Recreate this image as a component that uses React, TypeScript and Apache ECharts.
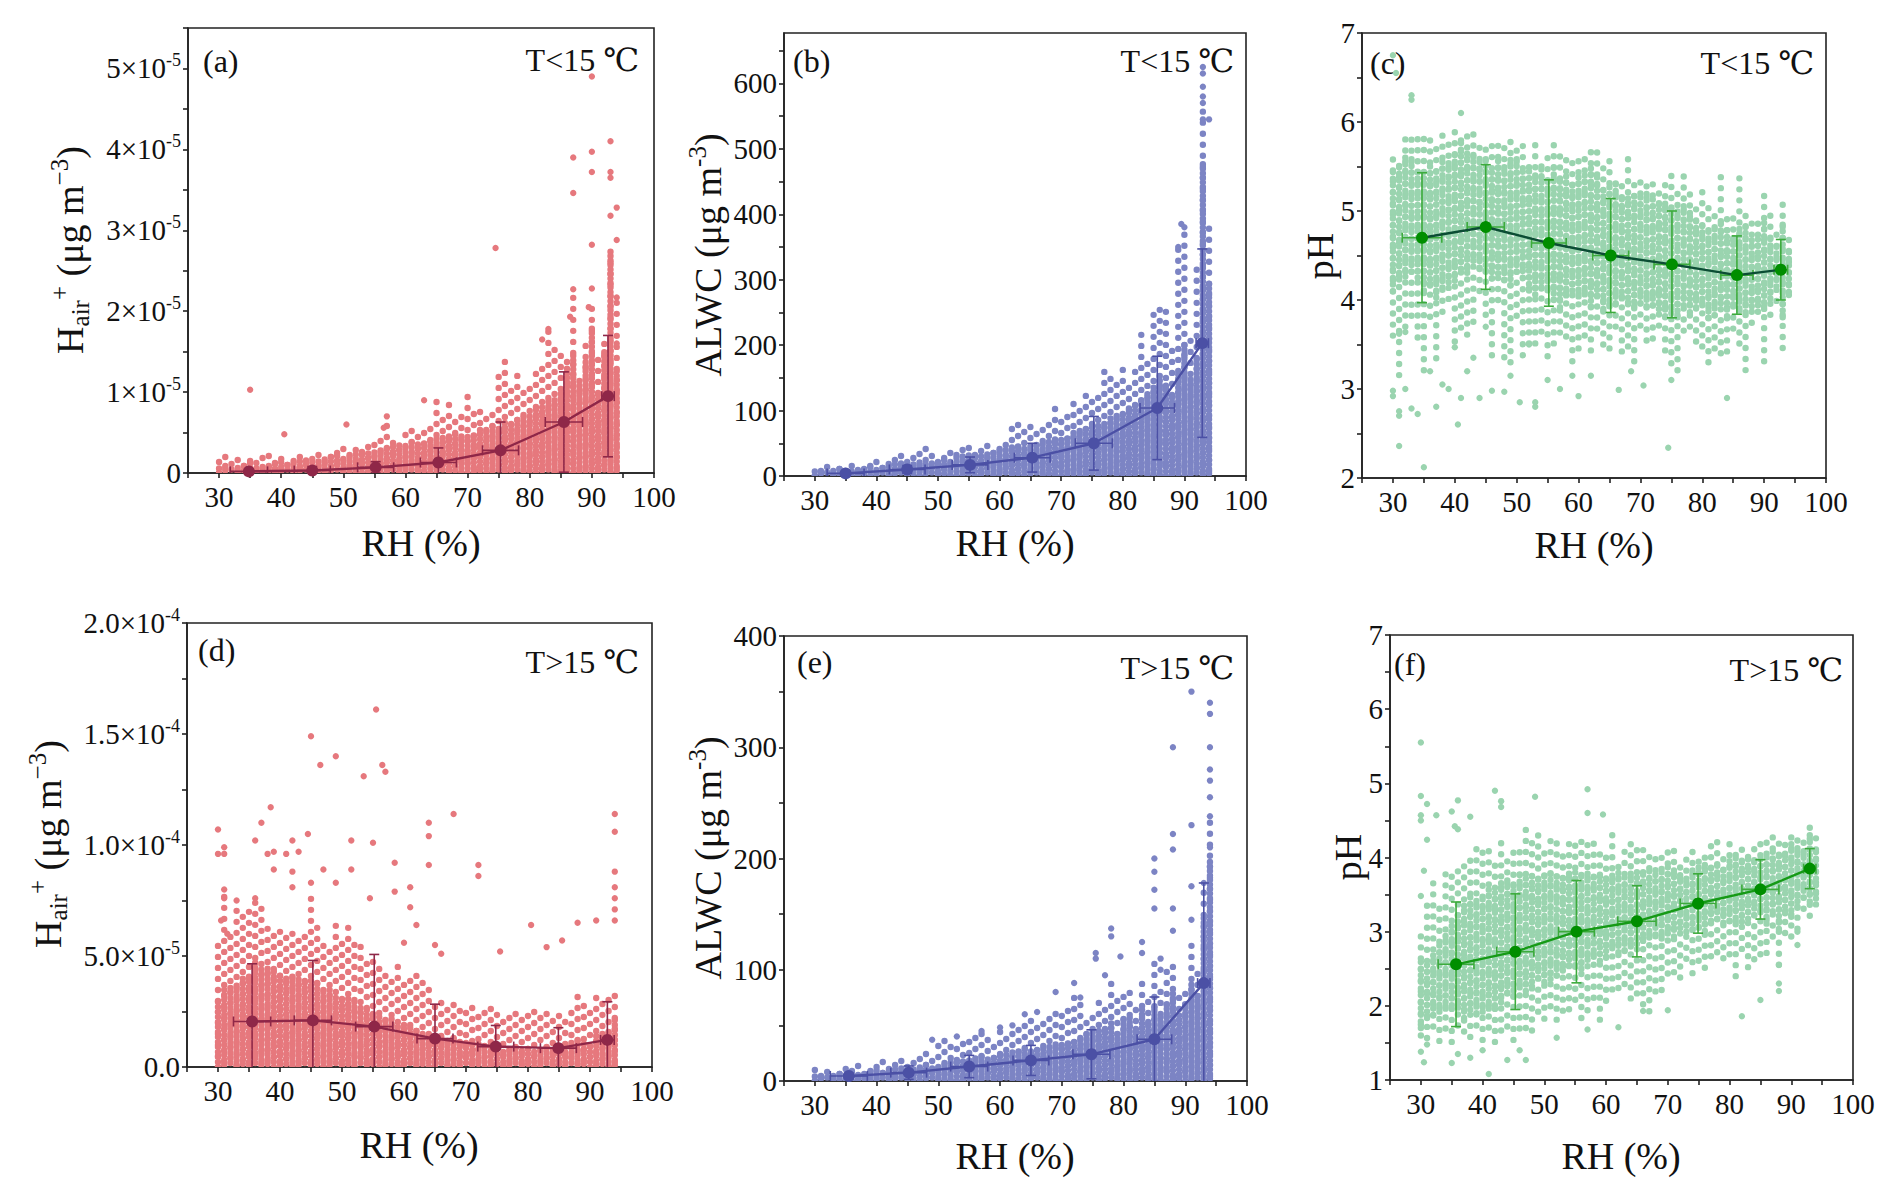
import React, { useEffect, useRef } from "react";
import * as echarts from "echarts";

const FONT = "'Liberation Serif','Times New Roman','DejaVu Serif',serif";

// RH columns (integer RH values at which the observations stack up)
const rhColumns = [30, 31, 32, 33, 34, 35, 36, 37, 38, 39, 40, 41, 42, 43, 44, 45, 46, 47, 48, 49, 50, 51, 52, 53, 54, 55, 56, 57, 58, 59, 60, 61, 62, 63, 64, 65, 66, 67, 68, 69, 70, 71, 72, 73, 74, 75, 76, 77, 78, 79, 80, 81, 82, 83, 84, 85, 86, 87, 88, 89, 90, 91, 92, 93, 94];

const xTickLabels = [30, 40, 50, 60, 70, 80, 90, 100];

// ---------- (a) H+air, T<15 (units of 1e-5 ug m-3) ----------
const aCoreHi = [0.08, 0.1, 0.08, 0.1, 0.1, 0.12, 0.1, 0.12, 0.14, 0.12, 0.15, 0.14, 0.16, 0.15, 0.18, 0.16, 0.18, 0.2, 0.2, 0.22, 0.22, 0.24, 0.25, 0.25, 0.28, 0.3, 0.3, 0.32, 0.34, 0.35, 0.36, 0.38, 0.4, 0.42, 0.44, 0.45, 0.46, 0.48, 0.48, 0.5, 0.5, 0.52, 0.55, 0.55, 0.58, 0.6, 0.62, 0.64, 0.66, 0.7, 0.75, 0.8, 0.85, 0.9, 0.95, 1.0, 1.3, 1.5, 1.1, 1.4, 1.8, 1.0, 1.5, 2.7, 1.3];
const aHaloHi = [0.2, 0.22, 0.2, 0.18, 0.2, 0.2, 0.15, 0.2, 0.22, 0.2, 0.2, 0.18, 0.2, 0.28, 0.22, 0.25, 0.24, 0.2, 0.3, 0.35, 0.3, 0.35, 0.32, 0.35, 0.4, 0.4, 0.45, 0.6, 0.45, 0.42, 0.5, 0.55, 0.5, 0.55, 0.6, 0.95, 0.7, 0.95, 0.7, 0.75, 0.98, 0.75, 0.85, 0.75, 0.8, 1.25, 1.48, 1.1, 1.2, 1.0, 1.1, 1.3, 1.4, 1.78, 1.55, 1.55, 1.5, 2.3, 1.2, 1.6, 2.1, 1.5, 1.7, 2.75, 2.2];
const aOutliers = [[35, 1.03], [40.5, 0.48], [50.5, 0.6], [57, 0.7], [56.5, 0.56], [63, 0.9], [74.5, 2.78], [87, 3.9], [87, 3.46], [87, 2.27], [86.5, 1.93], [90, 4.9], [90, 3.97], [90, 3.72], [90, 2.82], [90, 2.28], [89.5, 2.05], [93, 4.1], [93, 3.72], [93, 3.65], [93, 3.18], [94, 3.28], [94, 2.88], [94, 2.17], [83, 1.78], [82, 1.65], [94, 1.6]];
const aMeanRH = [34.8, 45.0, 55.2, 65.3, 75.3, 85.5, 92.6];
const aMean = [0.02, 0.03, 0.07, 0.13, 0.28, 0.63, 0.95];
const aSdY = [0.03, 0.05, 0.07, 0.18, 0.35, 0.62, 0.75];
const aSdX = [3.0, 2.9, 2.9, 2.9, 2.9, 3.0, 1.0];

// ---------- (b) ALWC, T<15 (ug m-3) ----------
const bCoreHi = [8, 10, 10, 11, 12, 12, 13, 14, 14, 15, 16, 17, 18, 19, 20, 21, 22, 23, 24, 25, 26, 27, 28, 29, 30, 32, 34, 35, 36, 38, 40, 42, 44, 46, 48, 50, 52, 54, 56, 58, 60, 63, 66, 70, 74, 78, 82, 86, 90, 95, 100, 105, 110, 118, 125, 135, 150, 140, 120, 160, 200, 150, 180, 480, 300];
const bHaloHi = [14, 15, 14, 16, 15, 18, 17, 18, 20, 22, 22, 24, 25, 28, 35, 32, 30, 34, 42, 38, 36, 40, 42, 38, 44, 50, 48, 55, 52, 50, 52, 60, 80, 80, 75, 90, 78, 85, 90, 110, 95, 100, 120, 110, 125, 120, 130, 170, 150, 140, 170, 150, 170, 220, 180, 250, 260, 265, 200, 350, 385, 210, 320, 560, 390];
const bOutliers = [[93, 625], [93, 615], [93, 595], [93, 580], [93, 570], [93, 545], [94, 545], [89.5, 385], [90, 380], [89, 350]];
const bMeanRH = [35.0, 45.0, 55.2, 65.3, 75.3, 85.6, 92.9];
const bMean = [4, 10, 17, 28, 50, 104, 203];
const bSdY = [3, 6, 12, 22, 41, 79, 144];
const bSdX = [3.0, 2.9, 2.9, 2.9, 3.0, 2.8, 1.0];

// ---------- (c) pH, T<15 ----------
const cCoreLo = [4.1, 4.2, 4.2, 4.3, 4.2, 4.1, 4.1, 4.0, 4.1, 4.2, 4.2, 4.3, 4.3, 4.4, 4.3, 4.3, 4.2, 4.3, 4.2, 4.1, 4.3, 4.2, 4.1, 4.0, 4.1, 4.1, 4.0, 3.9, 4.0, 4.1, 4.0, 4.0, 3.9, 4.0, 3.9, 3.9, 3.9, 4.0, 3.9, 3.9, 3.9, 3.9, 3.9, 3.9, 3.8, 3.8, 3.8, 3.9, 3.8, 3.9, 3.9, 3.8, 3.8, 3.9, 3.8, 3.9, 3.9, 3.8, 3.9, 3.9, 3.9, 4.0, 4.1, 3.8, 4.05];
const cCoreHi = [5.5, 5.5, 5.6, 5.6, 5.5, 5.4, 5.5, 5.5, 5.6, 5.6, 5.7, 5.8, 5.7, 5.7, 5.6, 5.6, 5.5, 5.6, 5.5, 5.6, 5.6, 5.5, 5.5, 5.4, 5.5, 5.4, 5.5, 5.4, 5.4, 5.3, 5.4, 5.4, 5.5, 5.4, 5.3, 5.3, 5.3, 5.2, 5.2, 5.2, 5.2, 5.2, 5.2, 5.1, 5.1, 5.1, 5.0, 5.1, 5.0, 4.9, 4.9, 4.8, 4.8, 4.9, 4.8, 4.7, 4.8, 4.9, 4.7, 4.7, 4.9, 4.7, 4.6, 4.9, 4.6];
const cHaloLo = [3.6, 3.1, 3.6, 3.8, 3.5, 3.2, 3.7, 3.3, 3.8, 3.9, 3.5, 3.6, 3.6, 3.7, 4.0, 3.8, 3.3, 4.0, 3.3, 3.2, 3.8, 3.3, 3.5, 3.4, 3.6, 3.3, 3.4, 3.6, 3.5, 3.3, 3.4, 3.5, 3.4, 3.6, 3.5, 3.4, 3.6, 3.4, 3.4, 3.3, 3.6, 3.5, 3.5, 3.6, 3.4, 3.2, 3.2, 3.6, 3.6, 3.5, 3.4, 3.3, 3.4, 3.3, 3.4, 3.6, 3.5, 3.1, 3.7, 3.8, 3.2, 3.8, 3.9, 3.45, 4.0];
const cHaloHi = [5.6, 5.6, 5.9, 5.9, 5.9, 5.9, 5.9, 5.7, 5.9, 5.8, 5.9, 5.9, 5.9, 5.9, 5.8, 5.8, 5.8, 5.8, 5.8, 5.8, 5.8, 5.8, 5.6, 5.8, 5.6, 5.6, 5.8, 5.7, 5.6, 5.6, 5.6, 5.6, 5.7, 5.7, 5.5, 5.6, 5.4, 5.4, 5.6, 5.4, 5.4, 5.4, 5.4, 5.3, 5.3, 5.4, 5.2, 5.4, 5.2, 5.1, 5.3, 5.1, 5.0, 5.4, 5.0, 5.0, 5.4, 5.0, 4.9, 4.9, 5.2, 5.0, 4.8, 5.15, 4.75];
const cOutliers = [[30, 6.75], [30.5, 6.55], [33, 6.3], [33, 6.25], [41, 6.1], [31, 2.36], [35, 2.12], [40.5, 2.6], [74.5, 2.34], [31, 2.7], [31, 2.75], [34, 2.72], [30, 2.92], [30, 2.98], [32, 3.0], [33, 2.78], [37, 2.8], [38, 3.05], [39, 3.0], [41, 2.9], [44, 2.9], [46, 2.98], [48, 2.97], [50.5, 2.85], [53, 2.8], [53, 2.85], [57, 3.0], [60, 2.92], [66.5, 2.99], [70.5, 3.04], [84, 2.9], [36, 3.2], [42, 3.2], [43, 3.35], [49, 3.15], [55, 3.1], [59, 3.15], [62, 3.15], [68.5, 3.2], [75, 3.1], [31, 3.62], [32, 3.64], [40, 3.47], [45, 3.7], [52, 3.5]];
const cMeanRH = [34.7, 45.0, 55.2, 65.2, 75.1, 85.6, 92.7];
const cMean = [4.70, 4.82, 4.64, 4.50, 4.40, 4.28, 4.34];
const cSdY = [0.73, 0.70, 0.71, 0.64, 0.60, 0.44, 0.34];
const cSdX = [3.2, 3.0, 2.8, 2.9, 2.9, 2.6, 1.1];

// ---------- (d) H+air, T>15 (units of 1e-5 ug m-3) ----------
const dCoreHi = [3.0, 3.5, 3.6, 3.8, 4.0, 4.2, 4.7, 4.6, 4.5, 4.4, 4.2, 4.0, 4.1, 4.0, 3.9, 4.0, 3.8, 3.6, 3.5, 3.3, 3.2, 3.1, 3.0, 2.8, 2.6, 2.4, 2.4, 2.3, 2.2, 2.0, 1.9, 1.8, 1.7, 1.6, 1.5, 1.4, 1.4, 1.3, 1.3, 1.2, 1.2, 1.1, 1.1, 1.0, 1.0, 0.9, 0.9, 0.9, 0.9, 0.9, 0.9, 0.9, 0.9, 0.9, 0.9, 1.0, 1.0, 1.1, 1.4, 1.2, 1.1, 1.4, 1.5, 1.6, 2.2];
const dHaloHi = [5.5, 8.0, 6.0, 7.5, 6.8, 7.0, 7.6, 7.3, 6.5, 6.3, 6.2, 6.0, 6.3, 5.8, 6.0, 7.6, 6.5, 5.8, 5.5, 6.5, 6.0, 6.3, 5.8, 5.5, 5.0, 4.9, 4.5, 4.4, 4.2, 4.8, 4.0, 4.2, 4.4, 3.8, 3.5, 3.1, 3.2, 3.0, 2.8, 2.9, 2.8, 3.0, 2.7, 2.6, 2.7, 2.6, 2.5, 2.6, 2.6, 2.5, 2.4, 2.5, 2.3, 2.4, 2.2, 2.6, 2.4, 2.7, 3.4, 3.0, 2.6, 3.6, 3.2, 3.3, 3.6];
const dOutliers = [[30, 10.7], [30, 9.6], [31, 9.9], [31, 9.6], [31, 8.0], [31, 7.6], [30.5, 6.6], [31.5, 6.0], [33, 7.5], [36, 10.2], [36, 7.6], [37, 11.0], [38, 9.6], [38.5, 11.7], [39, 9.7], [39, 8.9], [41, 9.6], [42, 10.2], [42, 8.8], [42, 8.1], [43, 9.7], [44.5, 10.5], [45, 14.9], [45, 8.3], [46.5, 13.6], [47, 8.9], [49, 14.0], [49, 8.3], [51.5, 10.2], [51.5, 8.9], [53.5, 13.1], [55, 10.1], [55.5, 16.1], [56.5, 13.6], [57, 13.3], [58.5, 9.2], [58.5, 7.9], [61, 8.1], [61, 7.2], [64, 11.0], [64, 10.4], [64, 9.1], [68, 11.4], [72, 9.1], [72, 8.6], [80.5, 6.4], [88, 6.5], [91, 6.6], [94, 11.4], [94, 10.6], [94, 8.8], [94, 8.1], [94, 7.6], [94, 7.1], [94, 6.6], [85.5, 5.7], [75.5, 5.2], [83, 5.4], [66, 5.1], [65, 5.5], [54.5, 7.6], [60, 5.6], [62, 6.4]];
const dMeanRH = [35.5, 45.3, 55.2, 65.0, 74.8, 84.9, 92.8];
const dMean = [2.05, 2.10, 1.82, 1.28, 0.92, 0.85, 1.22];
const dSdY = [2.6, 2.7, 3.25, 1.55, 0.95, 0.92, 1.72];
const dSdX = [3.0, 3.0, 3.0, 2.9, 2.9, 2.9, 1.1];

// ---------- (e) ALWC, T>15 (ug m-3) ----------
const eCoreHi = [6, 6, 7, 7, 8, 8, 9, 9, 10, 10, 11, 11, 12, 12, 13, 13, 14, 14, 15, 15, 16, 16, 17, 18, 19, 20, 21, 22, 23, 24, 25, 26, 27, 28, 29, 30, 31, 32, 33, 34, 35, 37, 38, 40, 42, 45, 48, 50, 52, 45, 55, 60, 50, 65, 55, 70, 60, 70, 80, 60, 70, 90, 80, 150, 200];
const eHaloHi = [10, 9, 9, 8, 10, 11, 12, 14, 15, 16, 18, 20, 20, 22, 25, 22, 24, 24, 28, 25, 36, 38, 36, 35, 40, 38, 42, 46, 40, 40, 50, 45, 52, 50, 58, 62, 50, 56, 58, 62, 60, 65, 80, 75, 58, 65, 78, 70, 90, 75, 82, 80, 70, 95, 75, 110, 85, 100, 110, 80, 80, 130, 100, 175, 235];
const eOutliers = [[85, 200], [85, 188], [85, 172], [85, 155], [88, 300], [88, 222], [88, 208], [88, 155], [88, 135], [91, 350], [91, 230], [91, 175], [91, 145], [94, 340], [94, 330], [94, 300], [94, 280], [94, 270], [94, 255], [94, 238], [94, 210], [93, 178], [83, 125], [83, 115], [78, 137], [78, 130], [75.5, 115], [75.5, 110], [79.5, 112], [72, 88], [69, 80], [73, 75], [77, 95], [86, 110], [86, 100], [64, 60], [66, 62], [57, 45], [49, 37], [53, 40], [60, 48], [62, 50]];
const eMeanRH = [35.5, 45.2, 55.0, 65.0, 74.8, 85.0, 93.0];
const eMean = [4.5, 7.5, 13, 18.5, 24, 37.5, 88];
const eSdY = [2.5, 6, 10, 13.5, 22, 38, 90];
const eSdX = [3.0, 2.9, 3.0, 2.9, 3.0, 2.8, 1.0];

// ---------- (f) pH, T>15 ----------
const fCoreLo = [1.7, 1.8, 1.8, 1.9, 1.9, 2.0, 1.9, 1.8, 1.9, 1.9, 1.9, 1.9, 2.0, 2.0, 2.1, 2.1, 2.2, 2.2, 2.2, 2.3, 2.3, 2.3, 2.4, 2.4, 2.5, 2.5, 2.5, 2.6, 2.6, 2.6, 2.6, 2.7, 2.7, 2.7, 2.8, 2.8, 2.8, 2.9, 2.9, 2.9, 2.9, 2.9, 3.0, 3.0, 3.0, 3.0, 3.0, 3.1, 3.1, 3.1, 3.1, 3.1, 3.1, 3.1, 3.2, 3.2, 3.1, 3.2, 3.0, 3.2, 3.2, 3.3, 3.4, 3.4, 3.4];
const fCoreHi = [2.6, 2.6, 2.7, 2.9, 3.0, 3.1, 3.3, 3.4, 3.5, 3.5, 3.5, 3.6, 3.6, 3.7, 3.7, 3.7, 3.8, 3.8, 3.8, 3.8, 3.8, 3.8, 3.8, 3.8, 3.8, 3.8, 3.8, 3.8, 3.8, 3.8, 3.8, 3.8, 3.8, 3.8, 3.8, 3.8, 3.8, 3.9, 3.8, 3.8, 3.9, 3.9, 3.8, 3.8, 3.9, 3.9, 3.9, 3.9, 3.9, 3.9, 4.0, 4.0, 4.0, 4.0, 4.0, 4.0, 4.0, 4.1, 4.1, 4.1, 4.2, 4.2, 4.1, 4.3, 4.1];
const fHaloLo = [1.6, 1.5, 1.6, 1.5, 1.6, 1.5, 1.6, 1.6, 1.5, 1.6, 1.5, 1.6, 1.5, 1.6, 1.6, 1.5, 1.6, 1.7, 1.6, 1.8, 1.8, 1.9, 1.8, 1.8, 1.9, 2.0, 1.7, 1.9, 2.0, 1.8, 2.0, 2.1, 2.2, 2.2, 2.1, 2.1, 1.9, 1.9, 2.1, 2.2, 2.3, 2.4, 2.3, 2.5, 2.4, 2.5, 2.5, 2.6, 2.6, 2.6, 2.6, 2.4, 2.7, 2.4, 2.6, 2.6, 2.7, 2.8, 2.5, 2.9, 2.8, 3.0, 3.2, 3.2, 3.3];
const fHaloHi = [3.0, 3.4, 3.7, 3.4, 3.9, 3.8, 3.9, 4.0, 4.1, 4.2, 4.1, 4.1, 4.0, 4.3, 4.0, 4.2, 4.2, 4.4, 4.2, 4.3, 4.2, 4.3, 4.2, 4.1, 4.2, 4.3, 4.3, 4.3, 4.2, 4.1, 4.0, 4.3, 4.0, 4.1, 4.2, 4.1, 4.1, 4.1, 4.1, 4.0, 4.1, 4.1, 4.0, 4.0, 4.1, 4.0, 4.1, 4.3, 4.3, 4.1, 4.2, 4.1, 4.2, 4.1, 4.2, 4.2, 4.2, 4.3, 4.3, 4.3, 4.3, 4.3, 4.3, 4.5, 4.4];
const fOutliers = [[30, 5.55], [30, 4.83], [30, 4.57], [30, 4.5], [31, 4.72], [32.5, 4.57], [35, 4.62], [35.5, 4.42], [36, 4.77], [36, 4.38], [38, 4.55], [42, 4.9], [43, 4.76], [43, 4.68], [48.5, 4.82], [57, 4.92], [57, 4.6], [59.5, 4.58], [30, 1.38], [30.5, 1.24], [31, 1.48], [35, 1.23], [36, 1.35], [38, 1.3], [41, 1.08], [40, 1.4], [44, 1.27], [46, 1.4], [47, 1.27], [82, 1.86], [85, 2.08], [88, 2.2], [88, 2.3], [88, 2.55], [62, 1.71], [70, 1.94], [57, 1.68], [52, 1.57], [66, 1.93], [91, 2.82], [91, 3.0], [30, 3.48], [30.5, 3.82], [31, 4.24]];
const fMeanRH = [35.7, 45.3, 55.2, 65.0, 74.9, 85.0, 93.0];
const fMean = [2.56, 2.73, 3.00, 3.14, 3.38, 3.57, 3.85];
const fSdY = [0.84, 0.78, 0.69, 0.48, 0.40, 0.40, 0.27];
const fSdX = [2.9, 3.0, 2.9, 3.1, 2.9, 3.0, 1.0];

const PINK = { cloud: "#E6787D", mark: "#8F2748", line: "#8F2748", err: "#8F2748" };
const BLUE = { cloud: "#7C84C4", mark: "#4B50A5", line: "#4B50A5", err: "#4B50A5" };
const GREEN_C = { cloud: "#9AD4AF", mark: "#008E00", line: "#0B4D34", err: "#3CAB3C" };
const GREEN_F = { cloud: "#9AD4AF", mark: "#008E00", line: "#169A16", err: "#3CAB3C" };

const SUP_RICH = {
  m: { fontSize: 29, fontFamily: FONT, color: "#111", lineHeight: 34 },
  s: { fontSize: 18, fontFamily: FONT, color: "#111", lineHeight: 18, verticalAlign: "top" },
};

const isMult = (v: number, step: number) => Math.abs(v / step - Math.round(v / step)) < 1e-6;

const fmtA = (v: number) => {
  if (Math.abs(v) < 1e-9) return "{m|0}";
  if (!isMult(v, 1)) return "";
  return `{m|${Math.round(v)}×10}{s|-5}`;
};
const fmtD = (v: number) => {
  if (Math.abs(v) < 1e-9) return "{m|0.0}";
  if (!isMult(v, 5)) return "";
  if (Math.abs(v - 5) < 1e-6) return "{m|5.0×10}{s|-5}";
  return `{m|${(v / 10).toFixed(1)}×10}{s|-4}`;
};
const fmtStep = (step: number) => (v: number) => (isMult(v, step) ? `{m|${Math.round(v)}}` : "");

const panels = [
  { grid: { left: 188, top: 28, width: 466, height: 445 }, ymin: 0, ymax: 5.5, yint: 0.5, fmt: fmtA, col: PINK, coreGap: 4.5,
    core: rhColumns.map((x, k) => [x, 0, aCoreHi[k]]), halo: rhColumns.map((x, k) => [x, 0, aHaloHi[k]]),
    out: aOutliers, mRH: aMeanRH, m: aMean, sdx: aSdX, sdy: aSdY },
  { grid: { left: 784, top: 33, width: 462, height: 443 }, ymin: 0, ymax: 677, yint: 50, fmt: fmtStep(100), col: BLUE, coreGap: 4.5,
    core: rhColumns.map((x, k) => [x, 0, bCoreHi[k]]), halo: rhColumns.map((x, k) => [x, 0, bHaloHi[k]]),
    out: bOutliers, mRH: bMeanRH, m: bMean, sdx: bSdX, sdy: bSdY },
  { grid: { left: 1362, top: 33, width: 464, height: 445 }, ymin: 2, ymax: 7, yint: 0.5, fmt: fmtStep(1), col: GREEN_C, coreGap: 6.6,
    core: rhColumns.map((x, k) => [x, cCoreLo[k], cCoreHi[k]]), halo: rhColumns.map((x, k) => [x, cHaloLo[k], cHaloHi[k]]),
    out: cOutliers, mRH: cMeanRH, m: cMean, sdx: cSdX, sdy: cSdY },
  { grid: { left: 187, top: 623, width: 465, height: 444 }, ymin: 0, ymax: 20, yint: 2.5, fmt: fmtD, col: PINK, coreGap: 5,
    core: rhColumns.map((x, k) => [x, 0, dCoreHi[k]]), halo: rhColumns.map((x, k) => [x, 0, dHaloHi[k]]),
    out: dOutliers, mRH: dMeanRH, m: dMean, sdx: dSdX, sdy: dSdY },
  { grid: { left: 784, top: 636, width: 463, height: 445 }, ymin: 0, ymax: 400, yint: 50, fmt: fmtStep(100), col: BLUE, coreGap: 4.5,
    core: rhColumns.map((x, k) => [x, 0, eCoreHi[k]]), halo: rhColumns.map((x, k) => [x, 0, eHaloHi[k]]),
    out: eOutliers, mRH: eMeanRH, m: eMean, sdx: eSdX, sdy: eSdY },
  { grid: { left: 1390, top: 635, width: 463, height: 445 }, ymin: 1, ymax: 7, yint: 0.5, fmt: fmtStep(1), col: GREEN_F, coreGap: 6.6,
    core: rhColumns.map((x, k) => [x, fCoreLo[k], fCoreHi[k]]), halo: rhColumns.map((x, k) => [x, fHaloLo[k], fHaloHi[k]]),
    out: fOutliers, mRH: fMeanRH, m: fMean, sdx: fSdX, sdy: fSdY },
];

// each column is stroked as a dotted line: round caps on zero-length dashes give dots.
// Phase of the dot pattern per column (style only), so neighbouring columns do not line up.
const dotPhase = [0.0, 0.55, 0.2, 0.8, 0.35, 0.9, 0.1, 0.65, 0.45, 0.05, 0.75, 0.3, 0.95, 0.5, 0.15, 0.7, 0.4];
const DOT = 6.4;
const cloudRender = (gap: number, fill: string) => (params: any, api: any) => {
  const x = api.value(0);
  const lo = api.value(1);
  const hi = api.value(2);
  const top = api.coord([x, hi]);
  const bot = api.coord([x, lo]);
  const offset = dotPhase[params.dataIndex % dotPhase.length] * gap;
  return {
    type: "line",
    shape: { x1: top[0], y1: bot[1], x2: top[0], y2: top[1] },
    style: { stroke: fill, lineWidth: DOT, lineCap: "round", lineDash: [0.01, gap], lineDashOffset: offset },
  };
};

const errRender = (color: string) => (params: any, api: any) => {
  const x = api.value(0);
  const y = api.value(1);
  const sx = api.value(2);
  const sy = api.value(3);
  const t = api.coord([x, y + sy]);
  const b = api.coord([x, y - sy]);
  const l = api.coord([x - sx, y]);
  const r = api.coord([x + sx, y]);
  const cap = 5;
  const st = { stroke: color, lineWidth: 1.6 };
  return {
    type: "group",
    children: [
      { type: "line", shape: { x1: t[0], y1: t[1], x2: b[0], y2: b[1] }, style: st },
      { type: "line", shape: { x1: t[0] - cap, y1: t[1], x2: t[0] + cap, y2: t[1] }, style: st },
      { type: "line", shape: { x1: b[0] - cap, y1: b[1], x2: b[0] + cap, y2: b[1] }, style: st },
      { type: "line", shape: { x1: l[0], y1: l[1], x2: r[0], y2: r[1] }, style: st },
      { type: "line", shape: { x1: l[0], y1: l[1] - cap, x2: l[0], y2: l[1] + cap }, style: st },
      { type: "line", shape: { x1: r[0], y1: r[1] - cap, x2: r[0], y2: r[1] + cap }, style: st },
    ],
  };
};

// annotation positions
const letters = [
  { t: "(a)", x: 203, y: 61 }, { t: "(b)", x: 793, y: 61 }, { t: "(c)", x: 1370, y: 63 },
  { t: "(d)", x: 198, y: 650 }, { t: "(e)", x: 797, y: 662 }, { t: "(f)", x: 1394, y: 664 },
];
const temps = [
  { t: "T<15 ℃", x: 639, y: 60 }, { t: "T<15 ℃", x: 1234, y: 61 }, { t: "T<15 ℃", x: 1814, y: 63 },
  { t: "T>15 ℃", x: 639, y: 662 }, { t: "T>15 ℃", x: 1234, y: 668 }, { t: "T>15 ℃", x: 1843, y: 670 },
];
const xTitles = [
  { x: 421, y: 543 }, { x: 1015, y: 543 }, { x: 1594, y: 545 },
  { x: 419, y: 1145 }, { x: 1015, y: 1156 }, { x: 1621, y: 1156 },
];
const H_TITLE = "{m|H}{sub|air}{sup|+}{m| (μg m}{sup|−3}{m|)}";
const W_TITLE = "{m|ALWC (μg m}{sup|-3}{m|)}";
const yTitles = [
  { t: H_TITLE, x: 70, y: 250 }, { t: W_TITLE, x: 708, y: 255 }, { t: "{m|pH}", x: 1320, y: 256 },
  { t: H_TITLE, x: 48, y: 844 }, { t: W_TITLE, x: 708, y: 858 }, { t: "{m|pH}", x: 1348, y: 857 },
];
const TITLE_RICH = {
  m: { fontSize: 38, fontFamily: FONT, fill: "#111", lineHeight: 46 },
  sub: { fontSize: 25, fontFamily: FONT, fill: "#111", lineHeight: 25, verticalAlign: "bottom" },
  sup: { fontSize: 25, fontFamily: FONT, fill: "#111", lineHeight: 25, verticalAlign: "top" },
};

function buildOption() {
  const grid: any[] = [];
  const xAxis: any[] = [];
  const yAxis: any[] = [];
  const series: any[] = [];
  const axisLineStyle = { color: "#222", width: 1.6 };
  panels.forEach((p, i) => {
    grid.push({ ...p.grid, show: true, borderColor: "#222", borderWidth: 1.6, containLabel: false });
    xAxis.push({
      gridIndex: i, type: "value", min: 25, max: 100, interval: 5,
      axisLine: { show: true, onZero: false, lineStyle: axisLineStyle },
      axisTick: { show: true, inside: false, length: 5, lineStyle: axisLineStyle },
      axisLabel: {
        margin: 9, fontSize: 29, fontFamily: FONT, color: "#111",
        formatter: (v: number) => (xTickLabels.includes(Math.round(v)) && isMult(v, 10) ? String(Math.round(v)) : ""),
      },
      splitLine: { show: false },
    });
    yAxis.push({
      gridIndex: i, type: "value", min: p.ymin, max: p.ymax, interval: p.yint,
      axisLine: { show: true, onZero: false, lineStyle: axisLineStyle },
      axisTick: { show: true, inside: false, length: 5, lineStyle: axisLineStyle },
      axisLabel: { margin: 7, formatter: p.fmt, rich: SUP_RICH, showMaxLabel: p.ymax !== 677 },
      splitLine: { show: false },
    });
    series.push({
      type: "custom", xAxisIndex: i, yAxisIndex: i, clip: true, silent: true, z: 1,
      renderItem: cloudRender(11, p.col.cloud), data: p.halo,
    });
    series.push({
      type: "custom", xAxisIndex: i, yAxisIndex: i, clip: true, silent: true, z: 2,
      renderItem: cloudRender(p.coreGap, p.col.cloud), data: p.core,
    });
    series.push({
      type: "scatter", xAxisIndex: i, yAxisIndex: i, symbol: "circle", symbolSize: DOT, z: 3,
      itemStyle: { color: p.col.cloud, opacity: 1 }, data: p.out, silent: true,
    });
    series.push({
      type: "custom", xAxisIndex: i, yAxisIndex: i, clip: true, silent: true, z: 4,
      renderItem: errRender(p.col.err), data: p.mRH.map((x, k) => [x, p.m[k], p.sdx[k], p.sdy[k]]),
    });
    series.push({
      type: "line", xAxisIndex: i, yAxisIndex: i, z: 5, symbol: "circle", symbolSize: 12,
      lineStyle: { color: p.col.line, width: 2.4 }, itemStyle: { color: p.col.mark, borderWidth: 0 },
      data: p.mRH.map((x, k) => [x, p.m[k]]), silent: true,
    });
  });

  const graphic: any[] = [];
  letters.forEach((l) => graphic.push({
    type: "text", x: l.x, y: l.y, silent: true,
    style: { text: l.t, fontSize: 32, fontFamily: FONT, fill: "#111", align: "left", verticalAlign: "middle" },
  }));
  temps.forEach((l) => graphic.push({
    type: "text", x: l.x, y: l.y, silent: true,
    style: { text: l.t, fontSize: 32, fontFamily: FONT, fill: "#111", align: "right", verticalAlign: "middle" },
  }));
  xTitles.forEach((l) => graphic.push({
    type: "text", x: l.x, y: l.y, silent: true,
    style: { text: "RH (%)", fontSize: 38, fontFamily: FONT, fill: "#111", align: "center", verticalAlign: "middle" },
  }));
  yTitles.forEach((l) => graphic.push({
    type: "text", x: l.x, y: l.y, rotation: Math.PI / 2, silent: true,
    style: { text: l.t, rich: TITLE_RICH, fontSize: 38, fontFamily: FONT, fill: "#111", align: "center", verticalAlign: "middle" },
  }));

  return { animation: false, backgroundColor: "#ffffff", grid, xAxis, yAxis, series, graphic };
}

export default function App() {
  const ref = useRef<HTMLDivElement>(null);
  useEffect(() => {
    if (!ref.current) return;
    const chart = echarts.init(ref.current, undefined, { renderer: "svg" });
    chart.setOption(buildOption() as any);
    return () => chart.dispose();
  }, []);
  return <div ref={ref} style={{ position: "absolute", left: 0, top: 0, width: 1892, height: 1195, background: "#fff" }} />;
}
